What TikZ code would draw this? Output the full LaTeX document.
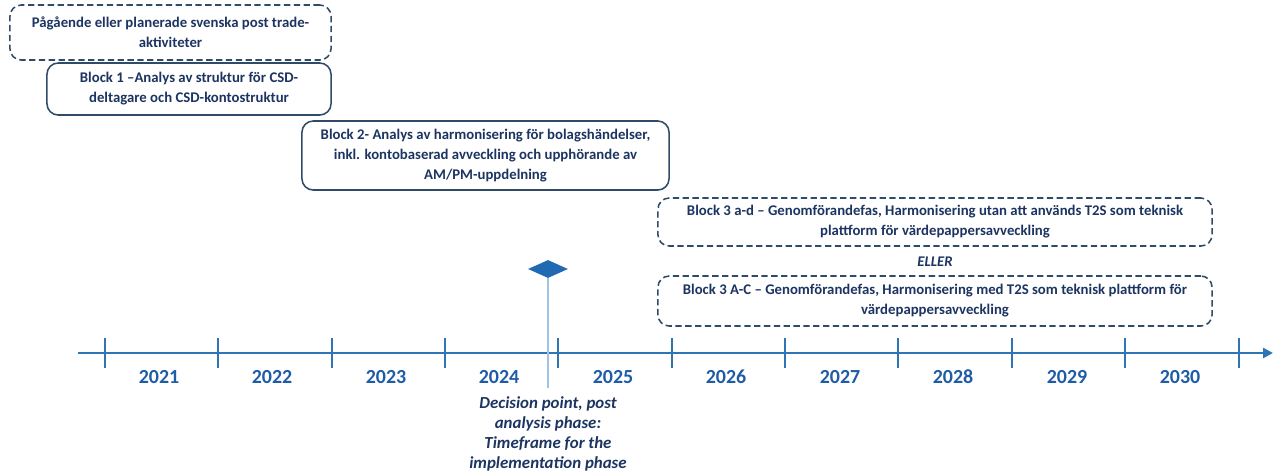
\documentclass[tikz,border=0pt]{standalone}
\usepackage{fontspec}
\setmainfont{Carlito}
\usetikzlibrary{shapes.geometric,arrows.meta}
\definecolor{navy}{HTML}{1C3461}
\definecolor{boxline}{HTML}{2F4B68}
\definecolor{axisblue}{HTML}{2E75B6}
\definecolor{yearblue}{HTML}{1F5CA6}
\definecolor{markblue}{HTML}{1F6AB3}
\definecolor{lightline}{HTML}{9DC3E6}

\begin{document}
\begin{tikzpicture}[x=0.025cm,y=-0.025cm,
  box/.style={draw=boxline, line width=1.1pt, rounded corners=8pt, align=center, text=navy, inner sep=0pt, font=\fontsize{10.5}{14.2}\selectfont\bfseries},
  dashbox/.style={box, dash pattern=on 4.5pt off 2.5pt},
  year/.style={text=yearblue, font=\fontsize{14.2}{16}\selectfont\bfseries},
  tick/.style={draw=axisblue, line width=1.2pt}]
\useasboundingbox (0,0) rectangle (1274,475);

\node[dashbox, minimum width=8.025cm, minimum height=1.375cm] (ongoing) at (170.5,32.5) {Pågående eller planerade svenska post trade-\\aktiviteter};
\node[box, minimum width=7.1cm, minimum height=1.3cm] (block1) at (189,89) {Block 1 –Analys av struktur för CSD-\\deltagare och CSD-kontostruktur};
\node[box, minimum width=9.175cm, minimum height=1.725cm] (block2) at (485.5,155.5) {Block 2- Analys av harmonisering för bolagshändelser,\\inkl. kontobaserad avveckling och upphörande av\\AM/PM-uppdelning};
\node[dashbox, minimum width=13.85cm, minimum height=1.2cm] (block3a) at (935,222) {Block 3 a-d – Genomförandefas, Harmonisering utan att används T2S som teknisk\\plattform för värdepappersavveckling};
\node[text=navy, font=\fontsize{10.5}{12}\selectfont\bfseries\itshape] (eller) at (935,262) {ELLER};
\node[dashbox, minimum width=13.85cm, minimum height=1.25cm] (block3b) at (935,301) {Block 3 A-C – Genomförandefas, Harmonisering med T2S som teknisk plattform för\\värdepappersavveckling};

\coordinate (axstart) at (78,353);
\coordinate (axend) at (1273,353);
\draw[axisblue, line width=2pt, -{Triangle[length=7pt,width=7pt]}] (axstart) -- (axend);

\coordinate (t1) at (105,353);
\coordinate (t2) at (218,353);
\coordinate (t3) at (332,353);
\coordinate (t4) at (445,353);
\coordinate (t5) at (558,353);
\coordinate (t6) at (672,353);
\coordinate (t7) at (785,353);
\coordinate (t8) at (898,353);
\coordinate (t9) at (1012,353);
\coordinate (t10) at (1125,353);
\coordinate (t11) at (1239,353);
\draw[tick] (t1) ++(0,-15) -- ++(0,30);
\draw[tick] (t2) ++(0,-15) -- ++(0,30);
\draw[tick] (t3) ++(0,-15) -- ++(0,30);
\draw[tick] (t4) ++(0,-15) -- ++(0,30);
\draw[tick] (t5) ++(0,-15) -- ++(0,30);
\draw[tick] (t6) ++(0,-15) -- ++(0,30);
\draw[tick] (t7) ++(0,-15) -- ++(0,30);
\draw[tick] (t8) ++(0,-15) -- ++(0,30);
\draw[tick] (t9) ++(0,-15) -- ++(0,30);
\draw[tick] (t10) ++(0,-15) -- ++(0,30);
\draw[tick] (t11) ++(0,-15) -- ++(0,30);

\node[year] (y2021) at (159,377) {2021};
\node[year] (y2022) at (272,377) {2022};
\node[year] (y2023) at (386,377) {2023};
\node[year] (y2024) at (499,377) {2024};
\node[year] (y2025) at (613,377) {2025};
\node[year] (y2026) at (726,377) {2026};
\node[year] (y2027) at (840,377) {2027};
\node[year] (y2028) at (953,377) {2028};
\node[year] (y2029) at (1067,377) {2029};
\node[year] (y2030) at (1180,377) {2030};

\node[diamond, fill=markblue, inner sep=0pt, minimum width=1cm, minimum height=0.45cm] (dp) at (548,269) {};
\coordinate (dpend) at (548,388);
\draw[lightline, line width=1pt] (dp.south) -- (dpend);
\node[align=center, text=navy, font=\fontsize{12}{14.2}\selectfont\bfseries\itshape] (dptext) at (548,434) {Decision point, post\\analysis phase:\\Timeframe for the\\implementation phase};
\end{tikzpicture}
\end{document}
